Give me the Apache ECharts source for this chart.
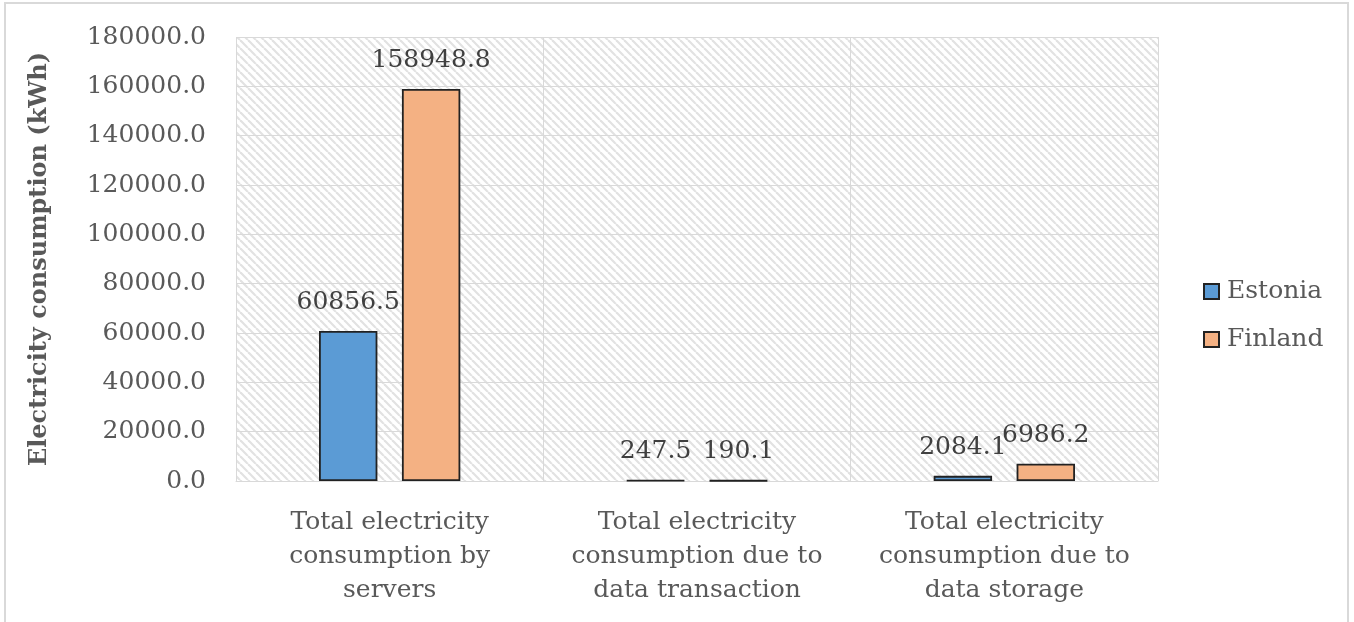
<!DOCTYPE html>
<html>
<head>
<meta charset="utf-8">
<script src="https://cdn.jsdelivr.net/npm/echarts@6/dist/echarts.min.js"></script>
<style>html,body{margin:0;padding:0;background:#fff}#c{width:1354px;height:622px}</style>
</head>
<body>
<div id="c"></div>
<script>
const categories = [
  "Total electricity\nconsumption by\nservers",
  "Total electricity\nconsumption due to\ndata transaction",
  "Total electricity\nconsumption due to\ndata storage"
];
const estonia = [60856.5, 247.5, 2084.1];
const finland = [158948.8, 190.1, 6986.2];
const seriesNames = ["Estonia", "Finland"];
const yMin = 0, yMax = 180000, yInterval = 20000;
const yAxisTitle = "Electricity consumption (kWh)";

const FONT = "DejaVu Serif";
const TXT = "#595959";

// hatch pattern
const P = 8;
const pat = document.createElement('canvas');
pat.width = P; pat.height = P;
const pc = pat.getContext('2d');
pc.fillStyle = '#ffffff';
pc.fillRect(0, 0, P, P);
pc.strokeStyle = '#e2e2e2';
pc.lineWidth = 2.2;
for (let k = -1; k <= 1; k++) {
  pc.beginPath();
  pc.moveTo(k * P, 0);
  pc.lineTo(k * P + P, P);
  pc.stroke();
}

const chart = echarts.init(document.getElementById('c'), null, {renderer: 'canvas'});
const lbl = {
  show: true, position: 'top', distance: 16,
  fontFamily: FONT, fontSize: 25, color: '#404040',
  formatter: p => p.value.toFixed(1)
};
chart.setOption({
  animation: false,
  backgroundColor: '#fff',
  graphic: [{
    type: 'rect', shape: {x: 5, y: 3, width: 1343, height: 630},
    style: {fill: 'none', stroke: '#d9d9d9', lineWidth: 2}, silent: true, z: -1
  }],
  grid: {
    left: 236, right: 196, top: 37, bottom: 141,
    show: true, borderWidth: 0,
    backgroundColor: {image: pat, repeat: 'repeat'}
  },
  legend: {
    orient: 'vertical', left: 1198, top: 274,
    itemWidth: 15, itemHeight: 15, itemGap: 23,
    icon: 'rect',
    textStyle: {fontFamily: FONT, fontSize: 25, color: TXT, padding: [0, 0, 0, 3]},
    data: seriesNames
  },
  xAxis: {
    type: 'category', data: categories,
    axisLine: {show: true, lineStyle: {color: '#d9d9d9', width: 1}},
    axisTick: {show: false},
    splitLine: {show: true, lineStyle: {color: '#d9d9d9', width: 1}},
    axisLabel: {
      fontFamily: FONT, fontSize: 25, color: TXT, lineHeight: 34, margin: 24,
      interval: 0
    }
  },
  yAxis: {
    type: 'value', min: yMin, max: yMax, interval: yInterval,
    name: yAxisTitle, nameLocation: 'middle', nameGap: 184,
    nameTextStyle: {fontFamily: FONT, fontSize: 24, fontWeight: 'bold', color: TXT},
    axisLine: {show: false}, axisTick: {show: false},
    splitLine: {show: true, lineStyle: {color: '#d9d9d9', width: 1}},
    axisLabel: {
      fontFamily: FONT, fontSize: 25, color: TXT, margin: 30,
      formatter: v => v.toFixed(1)
    }
  },
  series: [
    {
      name: seriesNames[0], type: 'bar', data: estonia,
      barWidth: '19%', barGap: '42%',
      itemStyle: {color: '#5B9BD5', borderColor: '#222', borderWidth: 1.8},
      label: lbl
    },
    {
      name: seriesNames[1], type: 'bar', data: finland,
      barWidth: '19%', barGap: '42%',
      itemStyle: {color: '#F4B183', borderColor: '#222', borderWidth: 1.8},
      label: lbl
    }
  ]
});
</script>
</body>
</html>
